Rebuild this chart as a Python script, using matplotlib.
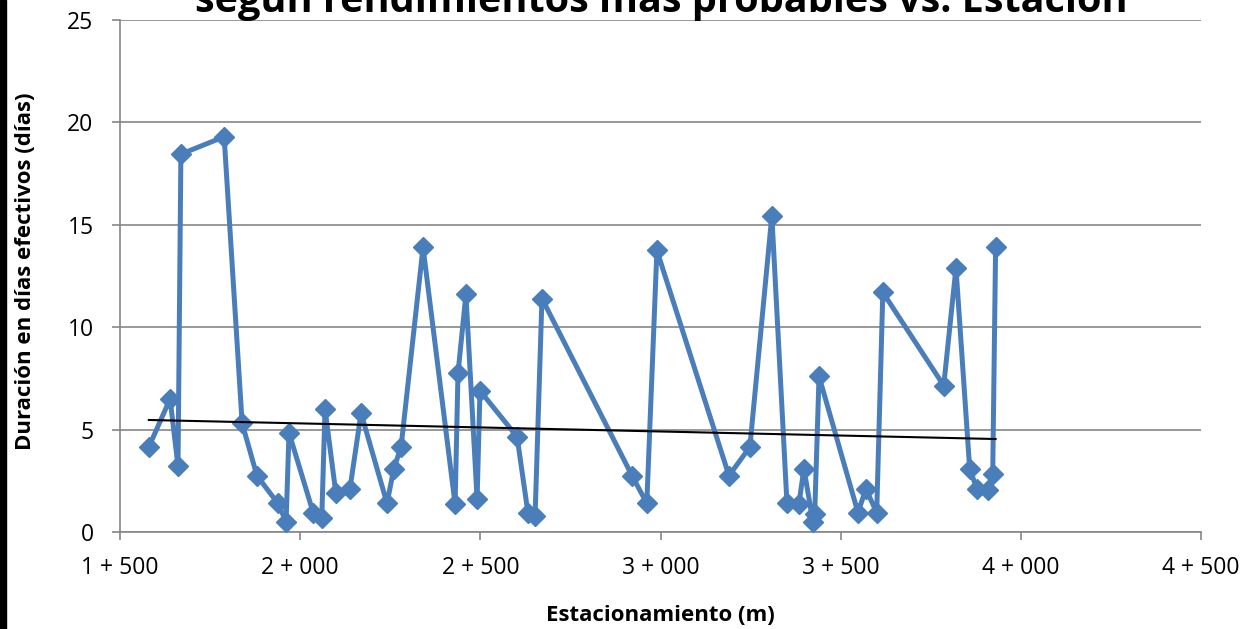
import numpy as np
import matplotlib
matplotlib.use('Agg')
from matplotlib import pyplot as plt
from matplotlib.patches import Rectangle
from matplotlib.ticker import FuncFormatter

plt.rcParams['font.family'] = ['Open Sans', 'DejaVu Sans']

# Estacionamiento (m) y duracion (dias efectivos)
estacion = [1580, 1639, 1661, 1669, 1789, 1839, 1880, 1938, 1961, 1969,
            2036, 2060, 2069, 2099, 2138, 2169, 2241, 2260, 2280, 2341,
            2430, 2438, 2460, 2491, 2499, 2602, 2632, 2652, 2671, 2921,
            2962, 2990, 3190, 3248, 3309, 3351, 3384, 3398, 3423, 3428,
            3440, 3548, 3570, 3600, 3617, 3786, 3820, 3858, 3878, 3908,
            3922, 3930]
duracion = [4.15, 6.5, 3.2, 18.45, 19.3, 5.3, 2.75, 1.4, 0.5, 4.85,
            0.95, 0.7, 6.0, 1.9, 2.1, 5.8, 1.4, 3.1, 4.15, 13.9,
            1.35, 7.75, 11.6, 1.6, 6.9, 4.65, 0.95, 0.8, 11.4, 2.75,
            1.4, 13.75, 2.75, 4.15, 15.45, 1.4, 1.35, 3.1, 0.5, 0.9,
            7.6, 0.95, 2.1, 0.95, 11.7, 7.15, 12.9, 3.1, 2.1, 2.05,
            2.85, 13.9]

# linea de tendencia (extremos)
tend_x = [1580, 3930]
tend_y = [5.47, 4.54]

titulo = 'según rendimientos más probables vs. Estación'
x_ticks = [1500, 2000, 2500, 3000, 3500, 4000, 4500]
y_ticks = [0, 5, 10, 15, 20, 25]

fig = plt.figure(figsize=(12.57, 6.29), dpi=100)
ax = fig.add_axes([120/1257, 97/629, 1081/1257, 512/629])

azul = '#4a7ebb'
gris = '#868686'

ax.plot(estacion, duracion, color=azul, lw=3.6, marker='D', ms=10.5,
        markerfacecolor=azul, markeredgecolor=azul, zorder=3)
ax.plot(tend_x, tend_y, color='black', lw=1.5, zorder=4)

ax.set_xlim(1500, 4500)
ax.set_ylim(0, 25)
ax.set_xticks(x_ticks)
ax.set_yticks(y_ticks)
ax.xaxis.set_major_formatter(FuncFormatter(lambda v, p: '%d + %03d' % (v // 1000, v % 1000)))
ax.yaxis.grid(True, color=gris, lw=1.2)
ax.set_axisbelow(True)
for s in ['top', 'right']:
    ax.spines[s].set_visible(False)
for s in ['left', 'bottom']:
    ax.spines[s].set_color(gris)
    ax.spines[s].set_linewidth(1.2)
ax.tick_params(axis='x', length=6, width=1.2, color=gris, pad=11, labelsize=16.5)
ax.tick_params(axis='y', length=6, width=1.2, color=gris, pad=13, labelsize=16.5)

ax.set_xlabel('Estacionamiento (m)', fontsize=16, fontweight='bold', labelpad=18)
ax.set_ylabel('Duración en días efectivos (días)', fontsize=16, fontweight='bold')
ax.yaxis.set_label_coords(-84/1081, 0.51)

fig.text(661/1257, 1 - 12/629, titulo, ha='center', va='baseline',
         fontsize=28.5, fontweight='bold')

fig.patches.append(Rectangle((0, 0), 6/1257, 1, transform=fig.transFigure,
                             color='black', zorder=10))

fig.savefig('out.png', dpi=100)
